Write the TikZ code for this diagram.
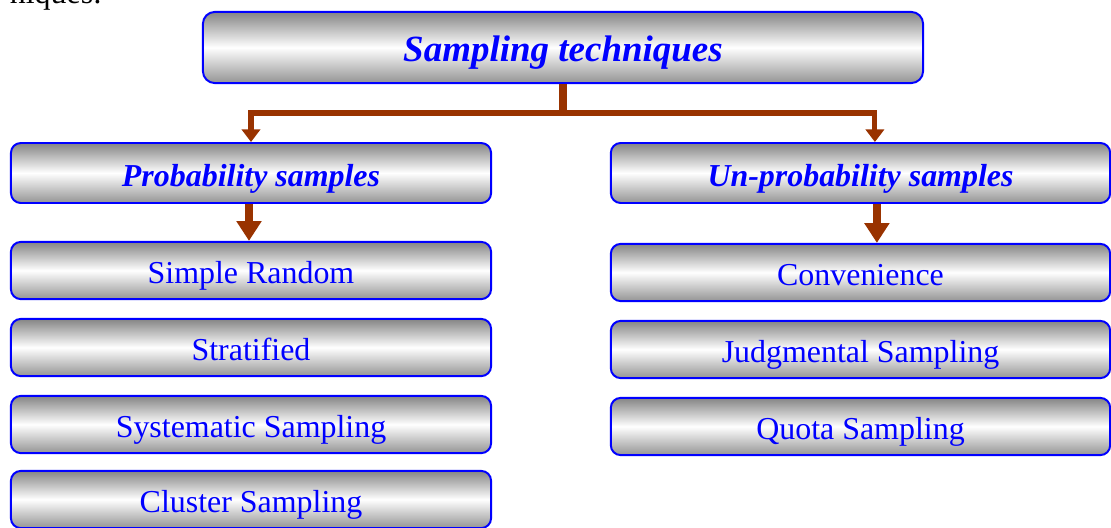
\documentclass[tikz,border=0pt]{standalone}
\usepackage{fontspec}
\setmainfont{Liberation Serif}
\usetikzlibrary{arrows.meta}
\definecolor{rust}{HTML}{993300}
\newcommand{\hd}[1]{\textbf{\textit{#1}}}

\begin{document}
\begin{tikzpicture}[x=0.025cm,y=-0.025cm,
    box/.style={draw=blue,line width=1.4pt,rounded corners=7pt,
      top color=black!48,bottom color=black!42,middle color=white,
      text=blue,inner sep=0pt,minimum height=1.43cm,
      text height=22pt,text depth=3pt,
      font=\fontsize{22.7}{26}\selectfont},
    lbox/.style={box,minimum width=12cm},
    rbox/.style={box,minimum width=12.48cm},
    branch/.style={draw=rust,line width=3.6pt,-{Triangle[width=13pt,length=9pt]}},
    fatarrow/.style={draw=rust,line width=5.7pt,-{Triangle[width=17pt,length=14pt]}}]
  \useasboundingbox (0,0) rectangle (1111,527);
  \clip (0,0) rectangle (1111,527);
  \node[anchor=base east,font=\fontsize{22.7}{26}\selectfont] (prev) at (107,3) {niques:};
  \node[box,minimum width=18cm,minimum height=1.78cm,rounded corners=8.5pt,
    text height=23pt,text depth=2.4pt,
    font=\fontsize{26.3}{30}\selectfont] (top) at (563,47.5) {\hd{Sampling techniques}};
  % the two families
  \node[lbox,minimum height=1.5cm,text height=22pt,text depth=2.2pt] (prob) at (251,173) {\hd{Probability samples}};
  \node[rbox,minimum height=1.5cm,text height=22pt,text depth=2.2pt] (nonprob) at (860.5,173) {\hd{Un-probability samples}};
  % probability methods
  \node[lbox] (simple) at (251,270.5) {Simple Random};
  \node[lbox] (strat) at (251,347.5) {Stratified};
  \node[lbox] (syst) at (251,424.5) {Systematic Sampling};
  \node[lbox] (clust) at (251,499.5) {Cluster Sampling};
  % un-probability methods
  \node[rbox] (conv) at (860.5,272.5) {Convenience};
  \node[rbox] (judg) at (860.5,349.5) {Judgmental Sampling};
  \node[rbox] (quota) at (860.5,426.5) {Quota Sampling};
  % connectors
  \coordinate (split) at (563,113);
  \draw[rust,line width=5pt] (top.south) -- (split);
  \draw[branch] (split) -| (prob.north);
  \draw[branch] (split) -| ([xshift=0.36cm]nonprob.north);
  \draw[fatarrow] ([xshift=-0.05cm]prob.south) -- ([xshift=-0.05cm]simple.north);
  \draw[fatarrow] ([xshift=0.41cm]nonprob.south) -- ([xshift=0.41cm]conv.north);
\end{tikzpicture}
\end{document}
